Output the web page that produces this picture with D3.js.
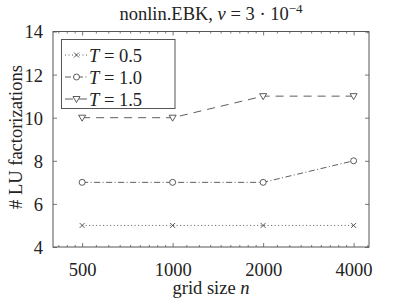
<!DOCTYPE html>
<html>
<head>
<meta charset="utf-8">
<script src="https://cdn.jsdelivr.net/npm/d3@7/dist/d3.min.js"></script>
<style>
  body { margin: 0; background: #fff; }
  svg, svg text, svg tspan { font-family: "Liberation Serif", "Times New Roman" !important; }
</style>
</head>
<body>
<script>
// data
const gridSizes = [500, 1000, 2000, 4000];
const luT05 = [5, 5, 5, 5];
const luT10 = [7, 7, 7, 8];
const luT15 = [10, 10, 11, 11];
const yTickValues = [4, 6, 8, 10, 12, 14];
const seriesNames = ["0.5", "1.0", "1.5"];

const W = 407, H = 305;
const plotL = 53, plotR = 369, plotT = 31.5, plotB = 247;
const fs = 18.5;
const FONT = "Liberation Serif";
const textColor = "#222";

const svg = d3.select("body").append("svg")
    .attr("width", W).attr("height", H)
    .attr("font-family", FONT)
    .attr("font-size", fs);

const x = d3.scaleLog().base(2).domain([400, 4500]).range([plotL, plotR]);
const y = d3.scaleLinear().domain([4, 14]).range([plotB, plotT]);

// minor ticks, 8 per octave like the original log axis
const minor = [];
[250, 500, 1000, 2000, 4000].forEach(b => {
    for (let j = 1; j <= 8; j++) {
        const v = b * (1 + j / 9);
        if (v > 400 && v < 4500) minor.push(v);
    }
});

const axisColor = "#555";

function styleAxis(g) {
    g.attr("font-family", FONT).attr("font-size", fs);
    g.select(".domain").remove();
    g.selectAll("line").attr("stroke", axisColor).attr("stroke-width", 0.8);
}

// ticks on all four sides (inward)
svg.append("g").attr("transform", `translate(0,${plotB})`)
    .call(d3.axisBottom(x).tickValues(minor).tickSize(-2).tickFormat(""))
    .call(styleAxis);
svg.append("g").attr("transform", `translate(0,${plotT})`)
    .call(d3.axisTop(x).tickValues(minor).tickSize(-2).tickFormat(""))
    .call(styleAxis);
svg.append("g").attr("transform", `translate(0,${plotT})`)
    .call(d3.axisTop(x).tickValues(gridSizes).tickSize(-4).tickFormat(""))
    .call(styleAxis);
svg.append("g").attr("transform", `translate(${plotR},0)`)
    .call(d3.axisRight(y).tickValues(yTickValues).tickSize(-4).tickFormat(""))
    .call(styleAxis);

const xAxis = svg.append("g").attr("transform", `translate(0,${plotB})`)
    .call(d3.axisBottom(x).tickValues(gridSizes).tickSize(-4).tickPadding(16).tickFormat(d3.format("d")))
    .call(styleAxis);
xAxis.selectAll("text").attr("dy", "0.7em");

const yAxis = svg.append("g").attr("transform", `translate(${plotL},0)`)
    .call(d3.axisLeft(y).tickValues(yTickValues).tickSize(-4).tickPadding(10))
    .call(styleAxis);
yAxis.selectAll("text").attr("dy", "0.35em");

// frame
svg.append("rect")
    .attr("x", plotL).attr("y", plotT)
    .attr("width", plotR - plotL).attr("height", plotB - plotT)
    .attr("fill", "none").attr("stroke", axisColor).attr("stroke-width", 1);

const lineColor = "#333";
const series = [
    { name: seriesNames[0], values: luT05, dash: "1,2.5", marker: "cross" },
    { name: seriesNames[1], values: luT10, dash: "6,2.5,1,2.5", marker: "circle" },
    { name: seriesNames[2], values: luT15, dash: "8,6", marker: "tri" }
];

const line = d3.line().x((d, i) => x(gridSizes[i])).y(d => y(d));

function drawMarker(g, kind, cx, cy) {
    if (kind === "cross") {
        g.append("path")
            .attr("d", `M${cx - 2.5},${cy - 2.5}L${cx + 2.5},${cy + 2.5}M${cx - 2.5},${cy + 2.5}L${cx + 2.5},${cy - 2.5}`)
            .attr("stroke", lineColor).attr("stroke-width", 0.8).attr("fill", "none");
    } else if (kind === "circle") {
        g.append("circle").attr("cx", cx).attr("cy", cy).attr("r", 3)
            .attr("stroke", lineColor).attr("stroke-width", 0.8).attr("fill", "#fff");
    } else {
        g.append("path")
            .attr("d", `M${cx - 3.5},${cy - 2.5}L${cx + 3.5},${cy - 2.5}L${cx},${cy + 3.5}Z`)
            .attr("stroke", lineColor).attr("stroke-width", 0.8).attr("fill", "#fff");
    }
}

series.forEach(s => {
    svg.append("path")
        .datum(s.values)
        .attr("d", line)
        .attr("fill", "none")
        .attr("stroke", lineColor)
        .attr("stroke-width", 0.8)
        .attr("stroke-dasharray", s.dash);
    const mg = svg.append("g");
    s.values.forEach((v, i) => drawMarker(mg, s.marker, x(gridSizes[i]), y(v)));
});

// legend
const lg = svg.append("g");
lg.append("rect")
    .attr("x", 61.5).attr("y", 39.5).attr("width", 113.5).attr("height", 69)
    .attr("fill", "#fff").attr("stroke", axisColor).attr("stroke-width", 1);
series.forEach((s, i) => {
    const cy = 55 + i * 22;
    lg.append("line")
        .attr("x1", 65).attr("x2", 87).attr("y1", cy).attr("y2", cy)
        .attr("stroke", lineColor).attr("stroke-width", 0.8)
        .attr("stroke-dasharray", s.dash);
    drawMarker(lg, s.marker, 76.5, cy);
    const t = lg.append("text").attr("x", 89).attr("y", cy + 6.5).attr("font-size", fs);
    t.append("tspan").attr("font-style", "italic").text("T");
    t.append("tspan").text(" = " + s.name);
});

// title
const title = svg.append("text")
    .attr("x", 211).attr("y", 20).attr("text-anchor", "middle").attr("font-size", fs);
title.append("tspan").text("nonlin.EBK, ");
title.append("tspan").attr("font-style", "italic").text("ν");
title.append("tspan").text(" = 3 · 10");
title.append("tspan").attr("font-size", 13).attr("dy", -7).text("−4");

// axis labels
const xl = svg.append("text")
    .attr("x", 211).attr("y", 294).attr("text-anchor", "middle").attr("font-size", fs);
xl.append("tspan").text("grid size ");
xl.append("tspan").attr("font-style", "italic").text("n");

svg.append("text")
    .attr("transform", "translate(22,137) rotate(-90)")
    .attr("text-anchor", "middle").attr("font-size", fs)
    .text("# LU factorizations");

// common text styling
svg.selectAll("text, tspan")
    .attr("font-family", FONT)
    .attr("fill", textColor)
    .each(function () { this.style.setProperty("font-family", '"Liberation Serif"', "important"); });
</script>
</body>
</html>
